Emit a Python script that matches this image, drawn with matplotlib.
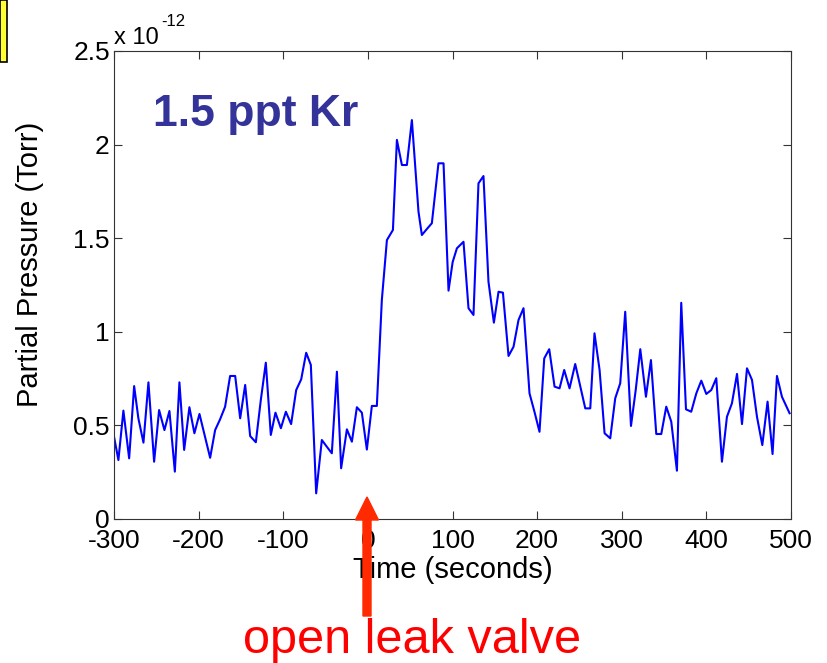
import matplotlib
matplotlib.use("Agg")
import matplotlib.pyplot as plt
from matplotlib.patches import FancyArrow, Rectangle

plt.rcParams["font.family"] = ["Liberation Sans", "DejaVu Sans"]
plt.rcParams["axes.unicode_minus"] = False

# time (s) and Kr partial pressure (units of 1e-12 Torr)
time_s = [
    -300, -294.8, -288.9, -282.1, -276.2, -271.2, -265.2, -259.3, -252.6, -246.7,
    -240.4, -234.5, -228.1, -222.7, -217.1, -210.9, -205.0, -199.0, -192.7, -186.4,
    -180.5, -174.6, -168.7, -162.8, -156.8, -150.9, -145.0, -139.1, -132.4, -126.5,
    -120.6, -114.7, -109.2, -102.8, -96.9, -90.7, -84.7, -78.8, -72.9, -67.4,
    -61.1, -54.4, -48.5, -42.6, -36.6, -31.6, -24.8, -18.9, -13.0, -7.1,
    -1.2, 4.7, 10.6, 16.5, 22.5, 29.6, 34.3, 40.2, 46.1, 52.0,
    59.8, 63.8, 69.7, 75.6, 83.4, 89.4, 95.3, 100.2, 105.2, 113.0,
    118.9, 124.8, 130.7, 136.6, 142.5, 148.9, 154.4, 159.6, 166.2, 172.1,
    178.0, 183.9, 191.0, 196.9, 202.8, 208.4, 214.3, 220.6, 226.5, 232.0,
    238.3, 245.0, 250.9, 256.9, 262.8, 267.8, 273.8, 279.7, 286.4, 292.3,
    298.2, 304.1, 310.9, 316.5, 321.9, 328.6, 334.5, 340.8, 346.7, 352.6,
    358.5, 365.2, 370.3, 375.9, 382.1, 388.1, 394.0, 399.9, 405.8, 411.7,
    418.4, 424.3, 430.2, 436.2, 442.1, 448.0, 453.9, 459.8, 466.1, 472.3,
    478.2, 483.4, 489.3, 498.3,
]
pressure = [
    0.44, 0.315, 0.579, 0.324, 0.71, 0.538, 0.408, 0.73, 0.306, 0.582,
    0.475, 0.577, 0.253, 0.73, 0.369, 0.597, 0.458, 0.561, 0.443, 0.327,
    0.475, 0.533, 0.60, 0.764, 0.764, 0.538, 0.716, 0.443, 0.41, 0.636,
    0.835, 0.449, 0.568, 0.485, 0.573, 0.507, 0.689, 0.746, 0.888, 0.823,
    0.137, 0.422, 0.386, 0.351, 0.787, 0.271, 0.479, 0.413, 0.597, 0.568,
    0.371, 0.604, 0.604, 1.17, 1.49, 1.544, 2.025, 1.891, 1.891, 2.131,
    1.642, 1.517, 1.549, 1.58, 1.90, 1.90, 1.22, 1.373, 1.446, 1.481,
    1.126, 1.09, 1.793, 1.832, 1.268, 1.049, 1.214, 1.209, 0.871, 0.92,
    1.063, 1.126, 0.671, 0.572, 0.466, 0.858, 0.907, 0.707, 0.698, 0.796,
    0.698, 0.828, 0.71, 0.591, 0.591, 0.992, 0.796, 0.458, 0.431, 0.645,
    0.725, 1.107, 0.497, 0.689, 0.907, 0.653, 0.849, 0.454, 0.454, 0.60,
    0.52, 0.258, 1.155, 0.586, 0.573, 0.671, 0.739, 0.668, 0.689, 0.752,
    0.306, 0.546, 0.618, 0.775, 0.507, 0.805, 0.743, 0.546, 0.395, 0.627,
    0.347, 0.764, 0.653, 0.565,
]

x_ticks = [-300, -200, -100, 0, 100, 200, 300, 400, 500]
y_ticks = [0, 0.5, 1, 1.5, 2, 2.5]
y_tick_labels = ["0", "0.5", "1", "1.5", "2", "2.5"]

W, H = 827, 663
fig = plt.figure(figsize=(W / 100, H / 100), dpi=100)
ax = fig.add_axes([114 / W, 1 - 519 / H, 677 / W, 468 / H])

ax.plot(time_s, pressure, color="#0000ff", linewidth=1.5)

ax.set_xlim(-300, 500)
ax.set_ylim(0, 2.5)
ax.set_xticks(x_ticks)
ax.set_yticks(y_ticks)
ax.set_yticklabels(y_tick_labels)
ax.tick_params(direction="in", top=True, right=True, length=6, width=0.8,
               labelsize=19, color="#333333")
ax.tick_params(axis="x", pad=7)
ax.tick_params(axis="y", pad=3)
for s in ax.spines.values():
    s.set_linewidth(0.8)
    s.set_color("#333333")

ax.set_xlabel("Time (seconds)", fontsize=21)
ax.xaxis.set_label_coords(0.5, -0.078)
ax.set_ylabel("Partial Pressure (Torr)", fontsize=21)
ax.yaxis.set_label_coords(-0.104, 0.545)

# exponent label in the MATLAB style
fig.text(114 / W, 1 - 44 / H, "x 10", fontsize=17, ha="left", va="baseline")
fig.text(161 / W, 1 - 26 / H, "-12", fontsize=12, ha="left", va="baseline")

fig.text(153 / W, 1 - 126 / H, "1.5 ppt Kr", fontsize=32, fontweight="bold",
         color="#333399", ha="left", va="baseline")

# arrow marking when the leak valve was opened
fig.patches.append(FancyArrow(367 / W, 1 - 616 / H, 0, 119 / H,
                              width=8 / W, head_width=23 / W, head_length=23 / H,
                              length_includes_head=True, color="#ff2a00",
                              transform=fig.transFigure, figure=fig))
fig.text(412 / W, 1 - 653 / H, "open leak valve", fontsize=35, color="#ff0000",
         ha="center", va="baseline")

# edge of the yellow box from the slide
fig.patches.append(Rectangle((0, 1 - 62 / H), 7 / W, 62 / H, facecolor="#ffff33",
                             edgecolor="black", linewidth=1.2,
                             transform=fig.transFigure, figure=fig))

fig.savefig("out.png", dpi=100)
